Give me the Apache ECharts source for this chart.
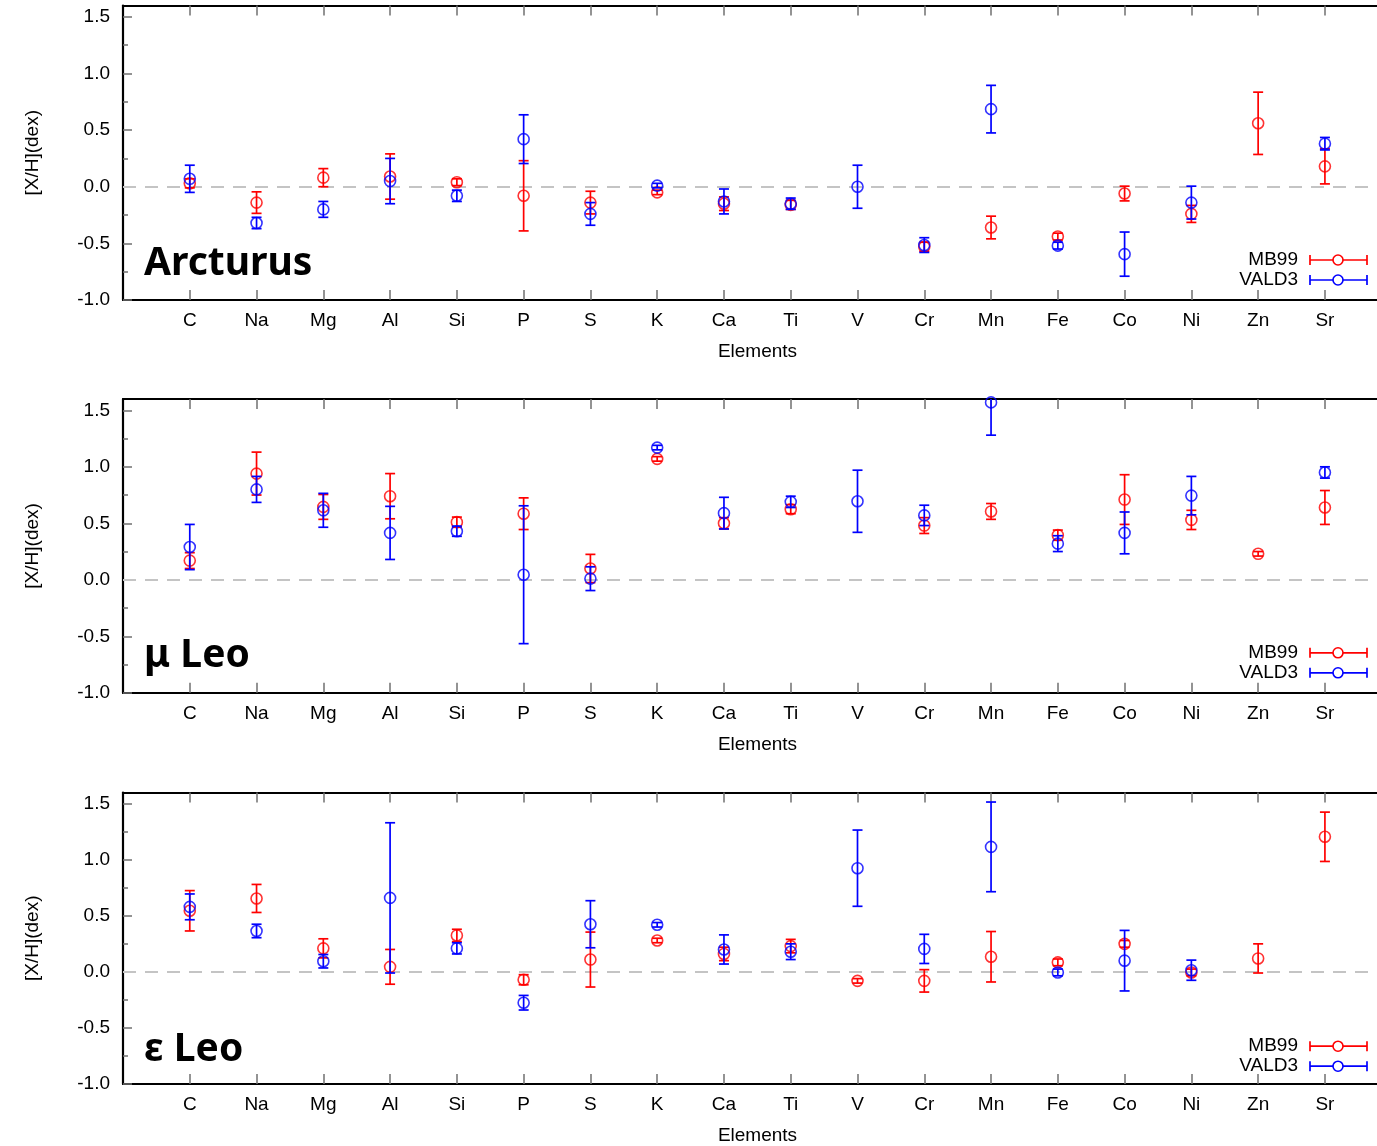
<!DOCTYPE html>
<html><head><meta charset="utf-8">
<script src="https://cdn.jsdelivr.net/npm/echarts@6/dist/echarts.min.js"></script>
<style>html,body{margin:0;padding:0;background:#fff}#c{width:1377px;height:1146px}</style>
</head><body><div id="c"></div>
<script>
const elements = ['C','Na','Mg','Al','Si','P','S','K','Ca','Ti','V','Cr','Mn','Fe','Co','Ni','Zn','Sr'];
const xTickValues = [1,2,3,4,5,6,7,8,9,10,11,12,13,14,15,16,17,18];
const yTickValues = [-1.0, -0.5, 0.0, 0.5, 1.0, 1.5];
const yMinorTickValues = [-0.75, -0.25, 0.25, 0.75, 1.25];
const panelNames = ['Arcturus', 'μ Leo', 'ε Leo'];
const seriesNames = ['MB99', 'VALD3'];

// Arcturus
const arcturusMB99     = [0.03,-0.14,0.08,0.09,0.04,-0.08,-0.14,-0.05,-0.15,-0.16,null,-0.53,-0.36,-0.44,-0.06,-0.24,0.56,0.18];
const arcturusMB99Err  = [0.04,0.095,0.08,0.2,0.03,0.31,0.1,0.02,0.06,0.04,null,0.04,0.1,0.03,0.065,0.075,0.275,0.155];
const arcturusVALD3    = [0.07,-0.32,-0.2,0.05,-0.08,0.42,-0.24,0.01,-0.13,-0.15,0.0,-0.515,0.685,-0.52,-0.595,-0.14,null,0.38];
const arcturusVALD3Err = [0.12,0.05,0.07,0.2,0.05,0.215,0.1,0.02,0.11,0.05,0.19,0.065,0.21,0.03,0.195,0.145,null,0.055];

// mu Leo
const muLeoMB99     = [0.17,0.94,0.645,0.74,0.51,0.585,0.10,1.07,0.50,0.625,null,0.48,0.605,0.395,0.71,0.53,0.23,0.64];
const muLeoMB99Err  = [0.07,0.19,0.11,0.2,0.045,0.14,0.125,0.02,0.05,0.04,null,0.07,0.07,0.045,0.22,0.085,0.02,0.15];
const muLeoVALD3    = [0.29,0.80,0.615,0.415,0.43,0.045,0.01,1.17,0.59,0.69,0.695,0.57,1.57,0.32,0.415,0.745,null,0.95];
const muLeoVALD3Err = [0.2,0.115,0.15,0.235,0.045,0.61,0.105,0.02,0.14,0.05,0.275,0.09,0.29,0.07,0.185,0.17,null,0.05];

// epsilon Leo
const epsLeoMB99     = [0.545,0.655,0.21,0.045,0.325,-0.07,0.11,0.28,0.16,0.23,-0.08,-0.08,0.135,0.085,0.25,-0.005,0.12,1.205];
const epsLeoMB99Err  = [0.18,0.125,0.085,0.155,0.055,0.045,0.245,0.02,0.06,0.06,0.02,0.1,0.225,0.03,0.03,0.03,0.13,0.22];
const epsLeoVALD3    = [0.58,0.365,0.095,0.66,0.21,-0.275,0.425,0.42,0.2,0.18,0.925,0.205,1.115,-0.005,0.10,0.015,null,null];
const epsLeoVALD3Err = [0.115,0.06,0.06,0.67,0.05,0.065,0.21,0.02,0.13,0.07,0.34,0.13,0.40,0.03,0.27,0.09,null,null];

const panels = [
  {name: panelNames[0], sets: [[arcturusMB99, arcturusMB99Err], [arcturusVALD3, arcturusVALD3Err]]},
  {name: panelNames[1], sets: [[muLeoMB99, muLeoMB99Err], [muLeoVALD3, muLeoVALD3Err]]},
  {name: panelNames[2], sets: [[epsLeoMB99, epsLeoMB99Err], [epsLeoVALD3, epsLeoVALD3Err]]}
];

const colors = ['#ff0000', '#0000ff'];
const gridTops = [5.5, 399, 792.5];
const gridHs = [294.5, 293.8, 293.7];
const gridLeft = 123;
const gridW = 1254;
const xMax = 18.78;
const FONT = '"Liberation Sans", Arial, sans-serif';
const tickColor = '#707070';

function makeRender(color) {
  return function (params, api) {
    const x = api.value(0), lo = api.value(1), hi = api.value(2);
    const cs = params.coordSys;
    const top = api.coord([x, hi]), bot = api.coord([x, lo]);
    const yMin = cs.y, yMax = cs.y + cs.height;
    const hw = 5;
    const st = {stroke: color, lineWidth: 1.7};
    const children = [{type: 'line', shape: {x1: top[0], y1: Math.max(top[1], yMin), x2: top[0], y2: Math.min(bot[1], yMax)}, style: st}];
    if (top[1] >= yMin) children.push({type: 'line', shape: {x1: top[0] - hw, y1: top[1], x2: top[0] + hw, y2: top[1]}, style: st});
    if (bot[1] <= yMax) children.push({type: 'line', shape: {x1: bot[0] - hw, y1: bot[1], x2: bot[0] + hw, y2: bot[1]}, style: st});
    return {type: 'group', children: children};
  };
}

const grid = [], xAxis = [], yAxis = [], series = [], graphic = [];
panels.forEach(function (panel, p) {
  const top = gridTops[p];
  const bottom = top + gridHs[p];
  grid.push({left: gridLeft, top: top, width: gridW, height: gridHs[p], show: false});
  xAxis.push({
    type: 'value', gridIndex: p, min: 0, max: xMax, position: 'bottom',
    name: 'Elements', nameLocation: 'middle', nameGap: 42,
    nameTextStyle: {fontFamily: FONT, fontSize: 19, color: '#000', padding: [0, 0, 0, 15]},
    axisLine: {show: true, onZero: false, lineStyle: {color: '#000', width: 2.2}},
    axisTick: {show: true, inside: true, length: 10, customValues: xTickValues, lineStyle: {color: tickColor, width: 1.5}},
    axisLabel: {margin: 11, fontFamily: FONT, fontSize: 19, color: '#000', customValues: xTickValues,
      formatter: function (v) { return elements[Math.round(v) - 1] || ''; }},
    splitLine: {show: false}
  });
  xAxis.push({
    type: 'value', gridIndex: p, min: 0, max: xMax, position: 'top',
    axisLine: {show: true, onZero: false, lineStyle: {color: '#000', width: 2.2}},
    axisTick: {show: true, inside: true, length: 10, customValues: xTickValues, lineStyle: {color: tickColor, width: 1.5}},
    axisLabel: {show: false}, splitLine: {show: false}
  });
  yAxis.push({
    type: 'value', gridIndex: p, min: -1.0, max: 1.6, position: 'left',
    name: '[X/H](dex)', nameLocation: 'middle', nameGap: 81,
    nameTextStyle: {fontFamily: FONT, fontSize: 19, color: '#000'},
    axisLine: {show: true, onZero: false, lineStyle: {color: '#000', width: 2.2}},
    axisTick: {show: true, inside: true, length: 9, customValues: yTickValues, lineStyle: {color: tickColor, width: 1.5}},
    axisLabel: {margin: 13, fontFamily: FONT, fontSize: 19, color: '#000', customValues: yTickValues,
      formatter: function (v) { return v.toFixed(1); }},
    splitLine: {show: false}
  });
  yAxis.push({
    type: 'value', gridIndex: p, min: -1.0, max: 1.6, position: 'left',
    axisLine: {show: false},
    axisTick: {show: true, inside: true, length: 5, customValues: yMinorTickValues, lineStyle: {color: tickColor, width: 1.5}},
    axisLabel: {show: false}, splitLine: {show: false}
  });

  panel.sets.forEach(function (set, s) {
    const vals = set[0], errs = set[1];
    const ebData = [], ptData = [];
    vals.forEach(function (v, i) {
      if (v === null) return;
      ebData.push([i + 1, v - errs[i], v + errs[i]]);
      ptData.push([i + 1, v]);
    });
    const eb = {
      type: 'custom', name: seriesNames[s], xAxisIndex: p * 2, yAxisIndex: p * 2,
      renderItem: makeRender(colors[s]), data: ebData, z: 3 + s * 2, silent: true
    };
    if (s === 0) {
      eb.markLine = {silent: true, symbol: 'none', label: {show: false}, z: 1,
        lineStyle: {color: '#c4c4c4', type: [13, 9], width: 2}, data: [{yAxis: 0}]};
    }
    series.push(eb);
    series.push({
      type: 'scatter', name: seriesNames[s], xAxisIndex: p * 2, yAxisIndex: p * 2,
      data: ptData, symbol: 'circle', symbolSize: 11, z: 4 + s * 2, silent: true,
      itemStyle: {color: 'rgba(0,0,0,0)', borderColor: colors[s], borderWidth: 1.6}
    });
  });

  // panel name
  graphic.push({type: 'text', left: 144, top: bottom - 56, z: 20,
    style: {text: panel.name, fontFamily: '"Noto Sans", sans-serif', fontWeight: 'bold', fontSize: 39, fill: '#000'}});
  // legend
  seriesNames.forEach(function (nm, s) {
    const y = bottom - 40 + s * 20;
    graphic.push({type: 'text', x: 1298, y: y, z: 20,
      style: {text: nm, fontFamily: FONT, fontSize: 19, fill: '#000', align: 'right', verticalAlign: 'middle'}});
    const st = {stroke: colors[s], lineWidth: 1.7, fill: null};
    graphic.push({type: 'line', z: 20, shape: {x1: 1310, y1: y, x2: 1367, y2: y}, style: st});
    graphic.push({type: 'line', z: 20, shape: {x1: 1310, y1: y - 5, x2: 1310, y2: y + 5}, style: st});
    graphic.push({type: 'line', z: 20, shape: {x1: 1367, y1: y - 5, x2: 1367, y2: y + 5}, style: st});
    graphic.push({type: 'circle', z: 21, shape: {cx: 1338, cy: y, r: 5}, style: {stroke: colors[s], lineWidth: 1.6, fill: '#fff'}});
  });
});

const chart = echarts.init(document.getElementById('c'), null, {renderer: 'canvas'});
chart.setOption({animation: false, backgroundColor: '#fff', grid: grid, xAxis: xAxis, yAxis: yAxis, series: series, graphic: graphic});
</script>
</body></html>
